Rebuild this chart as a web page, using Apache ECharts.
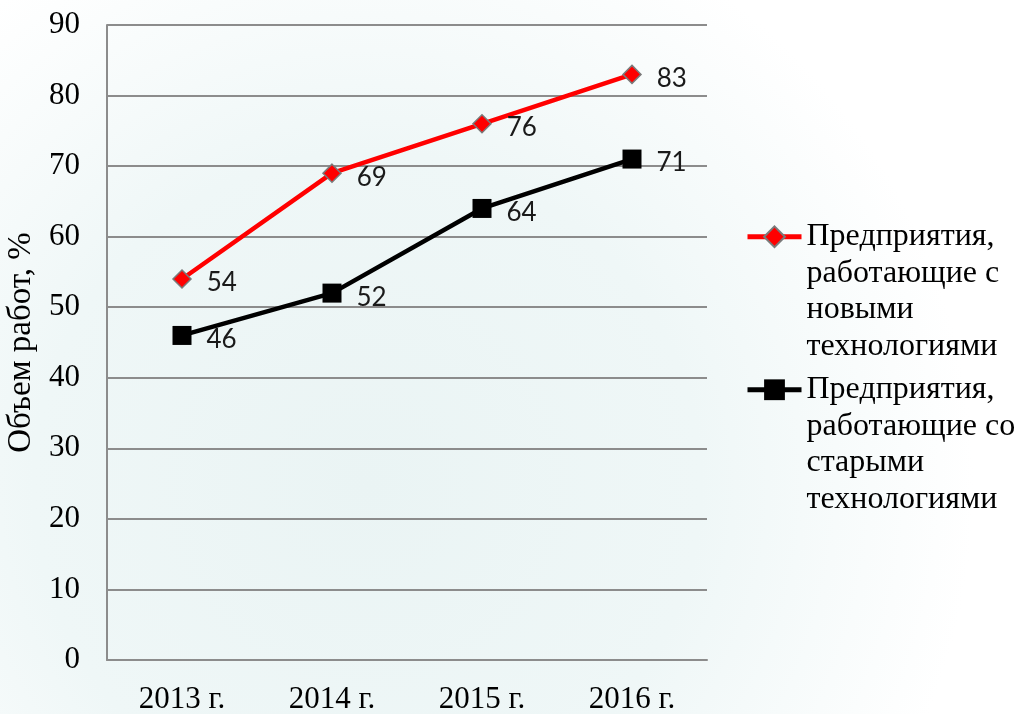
<!DOCTYPE html>
<html>
<head>
<meta charset="utf-8">
<script src="https://cdn.jsdelivr.net/npm/echarts@6/dist/echarts.min.js"></script>
<style>
  html, body { margin: 0; padding: 0; background: #fff; }
</style>
</head>
<body>
<div id="main" style="width:1019px;height:714px"></div>
<script>
const years = ['2013 г.', '2014 г.', '2015 г.', '2016 г.'];
const newTech = [54, 69, 76, 83];
const oldTech = [46, 52, 64, 71];
const newName = 'Предприятия,\nработающие с\nновыми\nтехнологиями';
const oldName = 'Предприятия,\nработающие со\nстарыми\nтехнологиями';

const myChart = echarts.init(document.getElementById('main'));

// три пустые строки сверху, чтобы значок легенды стоял у первой строки
const legendText = {
  fontFamily: 'Liberation Serif',
  fontSize: 32,
  lineHeight: 36.5,
  color: '#000'
};
const legendFmt = (name) => '\n\n\n' + name;

const labelStyle = {
  show: true,
  position: 'right',
  distance: 15,
  offset: [0, 4],
  fontFamily: 'Lato',
  fontSize: 26,
  color: '#1a1a1a'
};

myChart.setOption({
  backgroundColor: {
    type: 'radial', x: 0.36, y: 0.68, r: 0.85,
    colorStops: [
      { offset: 0, color: '#eaf4f4' },
      { offset: 0.55, color: '#eff7f7' },
      { offset: 1, color: '#ffffff' }
    ]
  },
  animation: false,
  grid: {
    left: 107, right: 312, top: 25, bottom: 54,
    containLabel: false, outerBoundsMode: 'none'
  },
  legend: [
    {
      data: [newName], orient: 'vertical', left: 745, top: 109, padding: 0,
      itemWidth: 54, itemHeight: 26, itemGap: 0,
      formatter: legendFmt,
      lineStyle: { width: 5 },
      textStyle: legendText
    },
    {
      data: [oldName], orient: 'vertical', left: 745, top: 262, padding: 0,
      itemWidth: 54, itemHeight: 26, itemGap: 0,
      formatter: legendFmt,
      lineStyle: { width: 5 },
      textStyle: legendText
    }
  ],
  xAxis: {
    type: 'category',
    data: years,
    boundaryGap: true,
    axisLine: { lineStyle: { color: '#8c8c8c', width: 2 } },
    axisTick: { show: false },
    axisLabel: {
      fontFamily: 'Liberation Serif', fontSize: 31, color: '#000', margin: 24
    }
  },
  yAxis: {
    type: 'value',
    min: 0, max: 90, interval: 10,
    name: 'Объем работ, %',
    nameLocation: 'middle',
    nameGap: 66,
    nameTextStyle: { fontFamily: 'Liberation Serif', fontSize: 33, color: '#000' },
    axisLine: { show: true, lineStyle: { color: '#8c8c8c', width: 2 } },
    axisTick: { show: false },
    axisLabel: { fontFamily: 'Liberation Serif', fontSize: 31, color: '#000', margin: 27 },
    splitLine: { lineStyle: { color: '#8c8c8c', width: 2 } }
  },
  series: [
    {
      name: newName,
      type: 'line',
      data: newTech,
      symbol: 'diamond',
      symbolSize: 18,
      lineStyle: { color: '#ff0000', width: 4.5 },
      itemStyle: { color: '#ff0000', borderColor: '#7a7a7a', borderWidth: 1.5 },
      label: labelStyle,
      z: 3
    },
    {
      name: oldName,
      type: 'line',
      data: oldTech,
      symbol: 'rect',
      symbolSize: 19,
      lineStyle: { color: '#000', width: 4.5 },
      itemStyle: { color: '#000' },
      label: labelStyle,
      z: 2
    }
  ]
});
</script>
</body>
</html>
